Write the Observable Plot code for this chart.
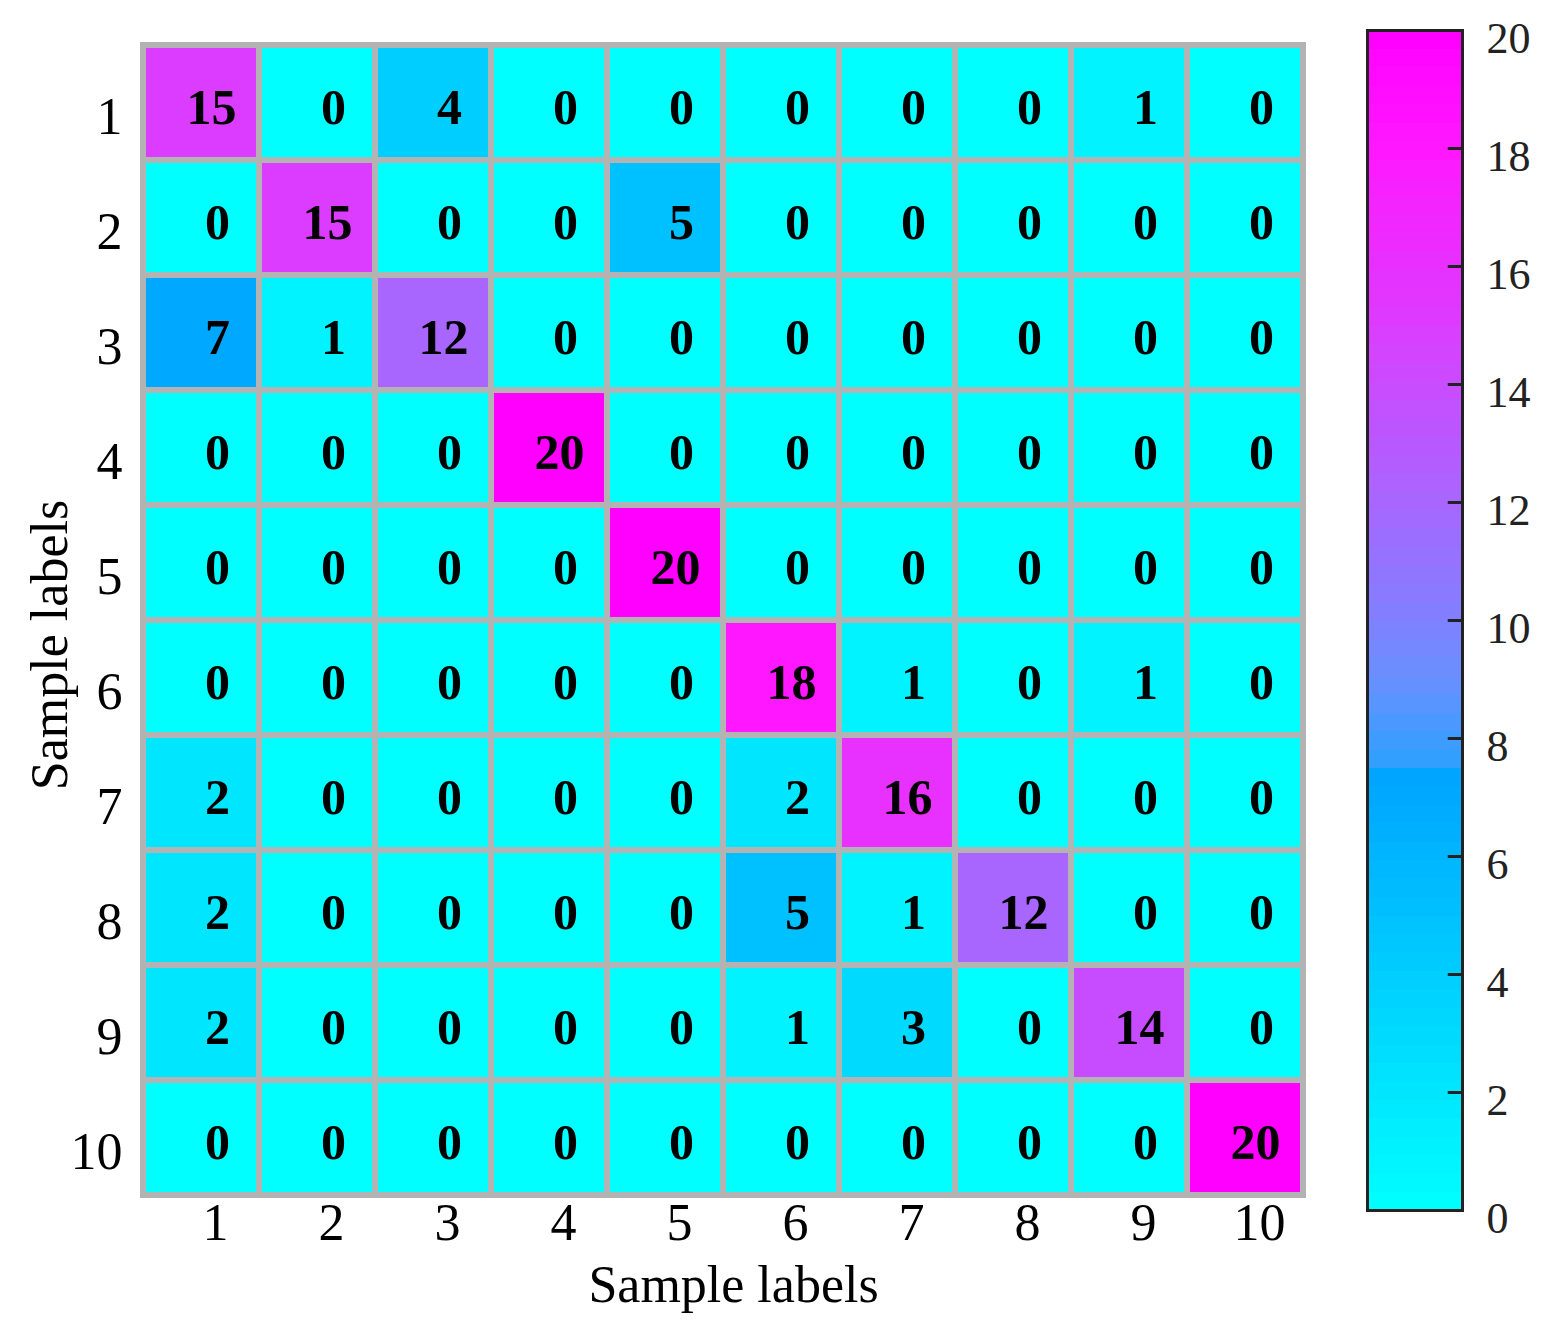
<!DOCTYPE html>
<html>
<head>
<meta charset="utf-8">
<script src="https://cdn.jsdelivr.net/npm/d3@7"></script>
<script src="https://cdn.jsdelivr.net/npm/@observablehq/plot@0.6"></script>
<style>
  html, body { margin: 0; padding: 0; background: #fff; }
  #wrap { position: relative; width: 1568px; height: 1338px; }
  #wrap svg { position: absolute; top: 0; }
</style>
</head>
<body>
<div id="wrap"></div>
<script>
// Tick labels (sample labels 1..10)
const labels = [1, 2, 3, 4, 5, 6, 7, 8, 9, 10];

// Rows: actual label; columns: predicted label
const row1  = [15, 0, 4, 0, 0, 0, 0, 0, 1, 0];
const row2  = [0, 15, 0, 0, 5, 0, 0, 0, 0, 0];
const row3  = [7, 1, 12, 0, 0, 0, 0, 0, 0, 0];
const row4  = [0, 0, 0, 20, 0, 0, 0, 0, 0, 0];
const row5  = [0, 0, 0, 0, 20, 0, 0, 0, 0, 0];
const row6  = [0, 0, 0, 0, 0, 18, 1, 0, 1, 0];
const row7  = [2, 0, 0, 0, 0, 2, 16, 0, 0, 0];
const row8  = [2, 0, 0, 0, 0, 5, 1, 12, 0, 0];
const row9  = [2, 0, 0, 0, 0, 1, 3, 0, 14, 0];
const row10 = [0, 0, 0, 0, 0, 0, 0, 0, 0, 20];

// Colour bar ticks
const barTicks = [0, 2, 4, 6, 8, 10, 12, 14, 16, 18, 20];

// Colormap stops (value -> colour)
const cmapStops  = [0, 7.55, 7.6, 8, 9, 10, 12, 14, 15, 16, 18, 20];
const cmapColors = ["#00ffff", "#00a2ff", "#30a0ff", "#409cff", "#6890ff", "#8080ff",
                    "#a866ff", "#c84cff", "#dc3cff", "#e830ff", "#ff18ff", "#ff00ff"];

const rowsData = [row1, row2, row3, row4, row5, row6, row7, row8, row9, row10];
const table = [];
rowsData.forEach((r, i) => r.forEach((v, j) => table.push({actual: labels[i], pred: labels[j], value: v})));

const colorScale = {type: "linear", domain: cmapStops, range: cmapColors, interpolate: "rgb"};
const font = "'Liberation Serif', 'Times New Roman', serif";

const main = Plot.plot({
  width: 1568,
  height: 1338,
  marginLeft: 140,
  marginRight: 262,
  marginTop: 40,
  marginBottom: 139,
  style: {fontFamily: font, fontSize: "52px", color: "#000", background: "transparent"},
  x: {type: "band", domain: labels, padding: 0, label: null},
  y: {type: "band", domain: labels, padding: 0, label: null},
  color: colorScale,
  marks: [
    Plot.cell(table, {x: "pred", y: "actual", fill: "value", stroke: "#b3b3b3", strokeWidth: 6, inset: 0}),
    Plot.text(table.filter(d => d.value < 10), {x: "pred", y: "actual", text: "value", dx: 16, dy: 5,
      fontWeight: "bold", fontSize: 50, fill: "#000"}),
    Plot.text(table.filter(d => d.value >= 10), {x: "pred", y: "actual", text: "value", dx: 10, dy: 5,
      fontWeight: "bold", fontSize: 50, fill: "#000"}),
    Plot.axisX({anchor: "bottom", tickSize: 0, tickPadding: 4, fontSize: 52, dx: 14, label: null}),
    Plot.axisY({anchor: "left", tickSize: 0, tickPadding: 18, fontSize: 52, dy: 14, label: null}),
    Plot.text(["Sample labels"], {frameAnchor: "bottom", textAnchor: "middle", lineAnchor: "middle",
      dx: 10, dy: 86, fontSize: 52, fill: "#000"}),
    Plot.text(["Sample labels"], {frameAnchor: "left", textAnchor: "middle", lineAnchor: "middle",
      rotate: -90, dx: -90, dy: 25, fontSize: 52, fill: "#000"})
  ]
});
main.style.left = "0px";

// Colour bar: 64 bands like the reference colormap
const nBands = 64;
const bands = d3.range(nBands).map(i => ({
  x1: 0, x2: 1,
  y1: i * 20 / nBands, y2: (i + 1) * 20 / nBands,
  v: (i + 0.5) * 20 / nBands
}));

const bar = Plot.plot({
  width: 228,
  height: 1338,
  marginLeft: 27,
  marginRight: 106,
  marginTop: 30,
  marginBottom: 128,
  style: {fontFamily: font, fontSize: "44px", color: "#222", background: "transparent"},
  x: {domain: [0, 1], axis: null},
  y: {domain: [0, 20], label: null},
  color: colorScale,
  marks: [
    Plot.rect(bands, {x1: "x1", x2: "x2", y1: "y1", y2: "y2", fill: "v", stroke: "v", strokeWidth: 1,
      shapeRendering: "crispEdges"}),
    Plot.ruleY(barTicks.filter(t => t > 0 && t < 20), {y: d => d, x1: 0.85, x2: 1, stroke: "#222", strokeWidth: 3}),
    Plot.frame({stroke: "#222", strokeWidth: 3}),
    Plot.axisY({anchor: "right", ticks: barTicks, tickSize: 0, tickPadding: 24, fontSize: 44, dy: 8, label: null})
  ]
});
bar.style.left = "1340px";

const wrap = document.getElementById("wrap");
wrap.appendChild(main);
wrap.appendChild(bar);
</script>
</body>
</html>
